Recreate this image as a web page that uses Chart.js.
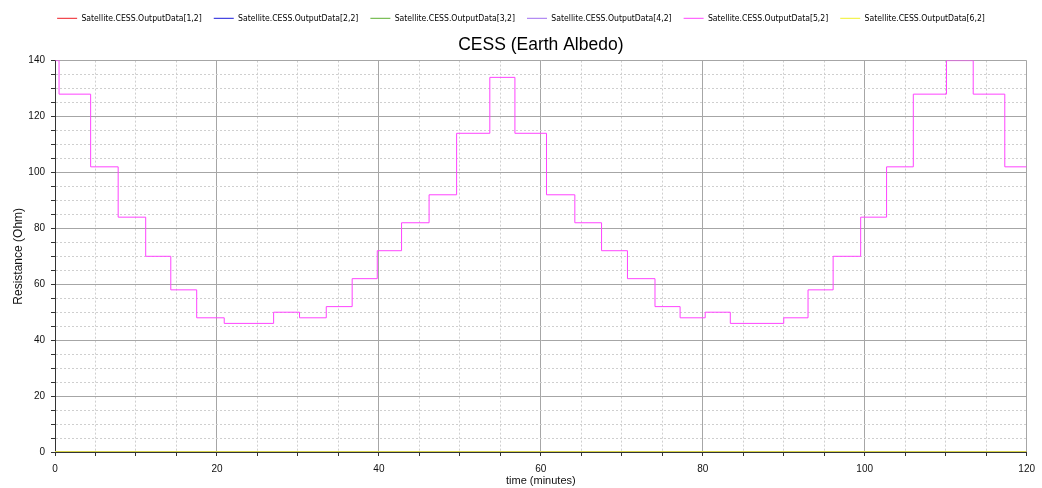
<!DOCTYPE html>
<html>
<head>
<meta charset="utf-8">
<title>CESS (Earth Albedo)</title>
<script src="https://cdn.jsdelivr.net/npm/chart.js@4.4.0/dist/chart.umd.min.js"></script>
<style>
  html, body { margin: 0; padding: 0; background: #ffffff; }
  #wrap { width: 1042px; height: 488px; }
</style>
</head>
<body>
<div id="wrap"><canvas id="chart" width="1042" height="488"></canvas></div>
<script>
// Output channels of the CESS block
const seriesNames = [
  'Satellite.CESS.OutputData[1,2]',
  'Satellite.CESS.OutputData[2,2]',
  'Satellite.CESS.OutputData[3,2]',
  'Satellite.CESS.OutputData[4,2]',
  'Satellite.CESS.OutputData[5,2]',
  'Satellite.CESS.OutputData[6,2]'
];
const seriesColors = ['#ee1c24', '#1a1adb', '#5cb030', '#a070f0', '#ff44ff', '#f0f028'];

// Channel 5: resistance steps (time in minutes, value held until next switch)
const switchTimes = [0, 0.5, 4.4, 7.8, 11.2, 14.3, 17.5, 20.9, 27.0, 30.2, 33.5, 36.7,
  39.8, 42.8, 46.2, 49.6, 53.7, 56.8, 60.7, 64.2, 67.5, 70.7, 74.1, 77.2, 80.3, 83.4,
  90.0, 93.0, 96.1, 99.5, 102.7, 106.0, 110.1, 113.4, 117.3, 120];
const resistance5 = [140, 128, 102, 84, 70, 58, 48, 46, 50, 48, 52, 62,
  72, 82, 92, 114, 134, 114, 92, 82, 72, 62, 52, 48, 50, 46,
  48, 58, 70, 84, 102, 128, 140, 128, 102, 102];

// Remaining channels stay at zero for the whole run
const flatTimes = [0, 120];
const flatValues = [0, 0];

// Axis ranges and steps
const timeRange = [0, 120];
const resistanceRange = [0, 140];
const minorStep = 5;
const majorStep = 20;

const chartTitle = 'CESS (Earth Albedo)';

const toPoints = (xs, ys) => xs.map((x, i) => ({ x: x, y: ys[i] }));

// lower order is painted last (on top): yellow, then magenta
const drawOrder = [5, 4, 3, 2, 1, 0];
const datasets = seriesNames.map((name, i) => ({
  label: name,
  data: i === 4 ? toPoints(switchTimes, resistance5) : toPoints(flatTimes, flatValues),
  borderColor: seriesColors[i],
  backgroundColor: seriesColors[i],
  pointBorderColor: seriesColors[i],
  pointBackgroundColor: seriesColors[i],
  pointBorderWidth: 1,
  borderWidth: i === 5 ? 1.5 : 1,
  stepped: 'before',
  pointRadius: 0,
  pointHoverRadius: 0,
  fill: false,
  order: drawOrder[i],
  pointStyle: 'line'
}));

const isMajor = v => Math.abs(v % majorStep) < 1e-9;
const gridColor = ctx => (ctx.tick && isMajor(ctx.tick.value)) ? '#a6a6a6' : '#cfcfcf';
const gridDash = ctx => (ctx.tick && !isMajor(ctx.tick.value)) ? [2, 2] : [];

const tickFont = { family: 'Liberation Sans, Arial, sans-serif', size: 10 };

// empty helper axis: only carries a caption or spacing
const blankAxis = extra => Object.assign({
  type: 'linear',
  display: true,
  ticks: { display: false },
  grid: { display: false, drawTicks: false },
  border: { display: false }
}, extra);

new Chart(document.getElementById('chart'), {
  type: 'line',
  data: { datasets: datasets },
  options: {
    responsive: false,
    animation: false,
    devicePixelRatio: 1,
    layout: { padding: { left: 0, right: 0, top: 2, bottom: 0 } },
    plugins: {
      legend: {
        position: 'top',
        weight: 3000,
        labels: {
          usePointStyle: true,
          pointStyleWidth: 20,
          boxHeight: 9,
          padding: 12,
          color: '#000000',
          font: { family: 'DejaVu Sans Condensed, Liberation Sans Narrow, sans-serif', size: 8.6 },
          sort: (a, b) => a.datasetIndex - b.datasetIndex
        }
      },
      title: { display: false },
      tooltip: { enabled: false }
    },
    scales: {
      x: {
        type: 'linear',
        min: timeRange[0],
        max: timeRange[1],
        ticks: {
          stepSize: minorStep,
          autoSkip: false,
          maxRotation: 0,
          color: '#111111',
          font: tickFont,
          padding: 7,
          callback: v => isMajor(v) ? String(v) : ''
        },
        grid: { color: gridColor, tickColor: '#333333', tickLength: 4, lineWidth: 1 },
        border: { color: '#333333', width: 1, dash: gridDash },
        title: {
          display: true,
          text: 'time (minutes)',
          color: '#111111',
          font: { family: 'Liberation Sans, Arial, sans-serif', size: 11 },
          padding: { top: 0, bottom: 0 }
        },
        afterFit: s => { s.height = 36; }
      },
      // caption centred over the plot area
      xTitle: blankAxis({
        position: 'top',
        min: timeRange[0],
        max: timeRange[1],
        title: {
          display: true,
          text: chartTitle,
          color: '#000000',
          font: { family: 'Liberation Sans, Arial, sans-serif', size: 17.5, weight: 'normal' },
          padding: { top: 2, bottom: 0 }
        },
        afterFit: s => { s.height = 28; }
      }),
      y: {
        type: 'linear',
        min: resistanceRange[0],
        max: resistanceRange[1],
        ticks: {
          stepSize: minorStep,
          autoSkip: false,
          color: '#111111',
          font: tickFont,
          padding: 6,
          callback: v => isMajor(v) ? String(v) : ''
        },
        grid: { color: gridColor, tickColor: '#333333', tickLength: 4, lineWidth: 1 },
        border: { color: '#333333', width: 1, dash: gridDash },
        title: {
          display: true,
          text: 'Resistance (Ohm)',
          color: '#111111',
          font: { family: 'Liberation Sans, Arial, sans-serif', size: 12 },
          padding: { top: 11, bottom: 0 }
        },
        afterFit: s => { s.width = 55; }
      },
      // right-hand spacer
      yRight: blankAxis({
        position: 'right',
        min: resistanceRange[0],
        max: resistanceRange[1],
        afterFit: s => { s.width = 15; }
      })
    }
  }
});
</script>
</body>
</html>
